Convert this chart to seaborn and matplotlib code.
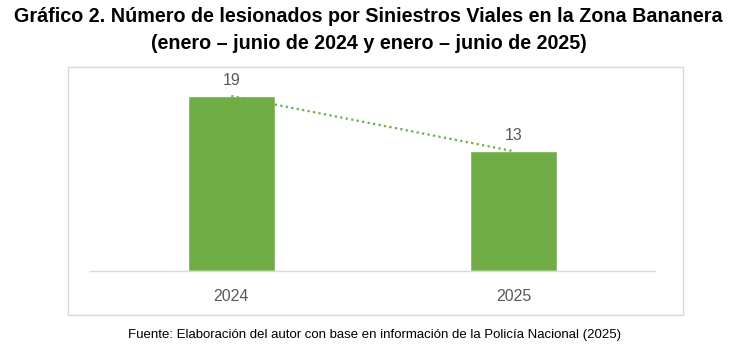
import numpy as np
import pandas as pd
import matplotlib
matplotlib.use('Agg')
import matplotlib.pyplot as plt
from matplotlib.patches import Rectangle
import seaborn as sns

# Data
years = ['2024', '2025']
lesionados = [19, 13]

title = ('Gráfico 2. Número de lesionados por Siniestros Viales en la Zona Bananera\n'
         '(enero – junio de 2024 y enero – junio de 2025)')
fuente = 'Fuente: Elaboración del autor con base en información de la Policía Nacional (2025)'

green = '#70AD47'
gray_text = '#595959'

sns.set_style('white')
plt.rcParams['font.family'] = ['Liberation Sans', 'DejaVu Sans']

df = pd.DataFrame({'Año': years, 'Lesionados': lesionados})

fig = plt.figure(figsize=(7.37, 3.62), dpi=100)

# chart frame
fig.patches.append(Rectangle((0.0923, 0.130), 0.834, 0.685, transform=fig.transFigure,
                             fill=False, edgecolor='#D9D9D9', linewidth=1.0, zorder=0))

ax = fig.add_axes([0.122, 0.2514, 0.767, 0.547])
sns.barplot(data=df, x='Año', y='Lesionados', color=green, width=0.307,
            saturation=1, ax=ax)

# linear trend line (dotted)
xs = np.arange(len(lesionados))
coef = np.polyfit(xs, lesionados, 1)
ax.plot(xs, np.polyval(coef, xs), linestyle=(0, (1, 1.5)), color=green, linewidth=1.6, zorder=3)

for i, v in enumerate(lesionados):
    ax.text(i, v + 0.9, str(v), ha='center', va='bottom', fontsize=11.5, color=gray_text)

ax.set_xlim(-0.5, 1.5)
ax.set_ylim(0, 21.5)
ax.set_xlabel('')
ax.set_ylabel('')
ax.set_yticks([])
ax.tick_params(axis='x', length=0, labelsize=11.5, labelcolor=gray_text, pad=13)
for s in ['top', 'right', 'left']:
    ax.spines[s].set_visible(False)
ax.spines['bottom'].set_color('#D9D9D9')
ax.spines['bottom'].set_linewidth(1.0)
ax.patch.set_alpha(0)

fig.text(0.5, 0.98, title, ha='center', va='top', fontsize=14.2, fontweight='bold',
         linespacing=1.55, color='black')
fig.text(0.508, 0.075, fuente, ha='center', va='center', fontsize=9.5, color='black')

fig.savefig('out.png', dpi=100)
